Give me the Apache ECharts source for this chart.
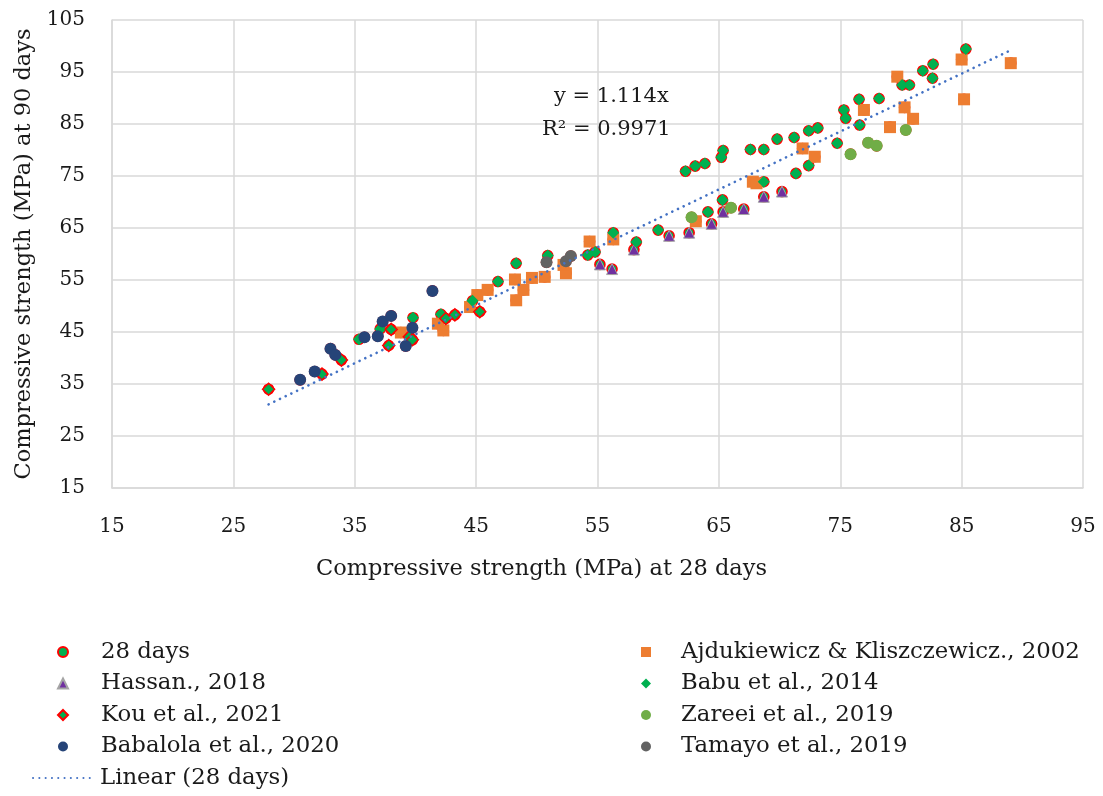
<!DOCTYPE html>
<html>
<head>
<meta charset="utf-8">
<script src="https://cdn.jsdelivr.net/npm/echarts@6/dist/echarts.min.js"></script>
<style>
  html, body { margin: 0; padding: 0; background: #ffffff; }
  #chart { width: 1103px; height: 796px; }
</style>
</head>
<body>
<div id="chart"></div>
<script>
// Compressive strength pairs [28 days, 90 days] in MPa, per source
const hassan2018 = [
  [55.2, 58.0], [56.2, 57.1], [58.0, 60.85], [60.9, 63.5], [62.55, 64.1],
  [64.4, 65.8], [65.35, 68.1], [67.05, 68.65], [68.7, 71.0], [70.2, 72.0]
];
const kou2021 = [
  [27.9, 34.0], [32.3, 36.9], [33.9, 39.6], [37.8, 42.4], [38.0, 45.5],
  [39.5, 44.1], [39.75, 43.5], [42.5, 47.6], [43.25, 48.3], [45.3, 48.9]
];
const babalola2020 = [
  [30.5, 35.8], [31.7, 37.4], [33.0, 41.8], [33.4, 40.6], [35.8, 44.0],
  [36.9, 44.2], [37.3, 47.0], [38.0, 48.1], [39.2, 42.3], [39.75, 45.8],
  [41.4, 52.9]
];
const ajdukiewicz2002 = [
  [38.8, 44.9], [41.85, 46.6], [42.3, 45.3], [44.5, 49.8], [45.1, 52.1],
  [45.95, 53.1], [48.2, 55.1], [48.3, 51.1], [48.9, 53.1], [49.6, 55.4],
  [50.65, 55.6], [52.4, 56.3], [52.2, 57.9], [54.35, 62.4], [56.3, 62.8],
  [63.1, 66.3], [67.8, 73.9], [68.1, 73.6], [71.9, 80.3], [72.9, 78.7],
  [76.95, 87.7], [79.1, 84.4], [79.7, 94.1], [80.3, 88.2], [81.0, 86.0],
  [85.0, 97.4], [85.2, 89.75], [89.05, 96.7]
];
const babu2014 = [
  [35.35, 43.6], [37.1, 45.6], [39.8, 47.75], [42.1, 48.4], [44.7, 51.0],
  [46.8, 54.7], [48.3, 58.2], [50.9, 59.7], [54.2, 59.8], [54.8, 60.4],
  [56.3, 64.1], [58.2, 62.3], [60.0, 64.6], [62.25, 75.9], [63.05, 76.9],
  [63.85, 77.4], [64.1, 68.1], [65.2, 78.6], [65.35, 79.9], [65.3, 70.4],
  [67.6, 80.1], [68.7, 80.1], [68.7, 73.9], [69.8, 82.1], [71.2, 82.4],
  [71.35, 75.5], [72.4, 77.0], [72.4, 83.7], [73.15, 84.25], [74.75, 81.3],
  [75.3, 87.7], [75.45, 86.1], [76.55, 89.75], [76.6, 84.8], [78.2, 89.9],
  [80.1, 92.5], [80.7, 92.5], [81.8, 95.25], [82.6, 93.8], [82.65, 96.5],
  [85.35, 99.4]
];
const zareei2019 = [
  [62.75, 67.05], [66.0, 68.9], [75.85, 79.2], [77.3, 81.4], [78.0, 80.8],
  [80.4, 83.85]
];
const tamayo2019 = [
  [50.8, 58.4], [52.4, 58.6], [52.8, 59.6]
];

// Pooled 28-day dataset and its regression through the origin
const allDays28 = [].concat(hassan2018, kou2021, babalola2020, ajdukiewicz2002,
  babu2014, zareei2019, tamayo2019);
const TREND_SLOPE = 1.114;
const TREND_R2 = '0.9971';

const xTicks = { min: 15, max: 95, step: 10 };
const yTicks = { min: 15, max: 105, step: 10 };

const xs = allDays28.map(p => p[0]);
const xLo = Math.min.apply(null, xs);
const xHi = Math.max.apply(null, xs);
const trendData = [[xLo, TREND_SLOPE * xLo], [xHi, TREND_SLOPE * xHi]];

const FONT = 'DejaVu Serif';
const TEXT = '#1a1a1a';
const GRID = '#d9d9d9';
const TREND_COLOR = '#4472c4';

const chart = echarts.init(document.getElementById('chart'), null, { renderer: 'canvas' });

function scatter(name, data, symbol, size, itemStyle, z) {
  return { name, type: 'scatter', data, symbol, symbolSize: size, itemStyle, z, emphasis: { disabled: true } };
}

const legendText = { fontFamily: FONT, fontSize: 22.8, color: TEXT, lineHeight: 24 };
const legendBase = {
  orient: 'vertical', padding: 0, itemGap: 7.5, selectedMode: false
};

const option = {
  animation: false,
  backgroundColor: '#ffffff',
  textStyle: { fontFamily: FONT },
  grid: { left: 112, right: 20, top: 20, bottom: 308 },
  xAxis: {
    type: 'value', min: xTicks.min, max: xTicks.max, interval: xTicks.step,
    name: 'Compressive strength (MPa) at 28 days',
    nameLocation: 'middle', nameGap: 70,
    nameTextStyle: { fontFamily: FONT, fontSize: 22.5, color: TEXT, padding: [0, 112, 0, 0] },
    axisLine: { show: true, lineStyle: { color: GRID, width: 1.5 } },
    axisTick: { show: false },
    axisLabel: { fontFamily: FONT, fontSize: 20, color: TEXT, margin: 29 },
    splitLine: { show: true, lineStyle: { color: GRID, width: 1.5 } }
  },
  yAxis: {
    type: 'value', min: yTicks.min, max: yTicks.max, interval: yTicks.step,
    name: 'Compressive strength (MPa) at 90 days',
    nameLocation: 'middle', nameGap: 65, nameRotate: 90,
    nameTextStyle: { fontFamily: FONT, fontSize: 22.5, color: TEXT },
    axisLine: { show: true, lineStyle: { color: GRID, width: 1.5 } },
    axisTick: { show: false },
    axisLabel: { fontFamily: FONT, fontSize: 20, color: TEXT, margin: 27 },
    splitLine: { show: true, lineStyle: { color: GRID, width: 1.5 } }
  },
  legend: [
    Object.assign({}, legendBase, {
      left: 57, top: 640, itemWidth: 10, itemHeight: 10,
      textStyle: Object.assign({ padding: [0, 0, 0, 28] }, legendText),
      data: ['28 days', 'Hassan., 2018', 'Kou et al., 2021', 'Babalola et al., 2020']
    }),
    Object.assign({}, legendBase, {
      left: 32, top: 766, itemWidth: 62, itemHeight: 10,
      textStyle: Object.assign({}, legendText),
      data: [{ name: 'Linear (28 days)', itemStyle: { opacity: 0 } }]
    }),
    Object.assign({}, legendBase, {
      left: 641, top: 640, itemWidth: 10, itemHeight: 10,
      textStyle: Object.assign({ padding: [0, 0, 0, 25] }, legendText),
      data: ['Ajdukiewicz & Kliszczewicz., 2002', 'Babu et al., 2014', 'Zareei et al., 2019', 'Tamayo et al., 2019']
    })
  ],
  graphic: [
    { type: 'text', left: 554, top: 86, z: 100,
      style: { text: 'y = ' + TREND_SLOPE + 'x', font: '21px "DejaVu Serif"', fill: TEXT } },
    { type: 'text', left: 542, top: 119, z: 100,
      style: { text: 'R\u00b2 = ' + TREND_R2, font: '21px "DejaVu Serif"', fill: TEXT } }
  ],
  series: [
    scatter('28 days', allDays28, 'circle', 10,
      { color: '#00b050', borderColor: '#ff0000', borderWidth: 1.6, opacity: 1 }, 2),
    scatter('Ajdukiewicz & Kliszczewicz., 2002', ajdukiewicz2002, 'rect', 12,
      { color: '#ed7d31', opacity: 1 }, 3),
    scatter('Hassan., 2018', hassan2018, 'triangle', 11,
      { color: '#7030a0', borderColor: '#a5a5a5', borderWidth: 1, opacity: 1 }, 3),
    scatter('Babu et al., 2014', babu2014, 'diamond', 12,
      { color: '#00b050', opacity: 1 }, 3),
    scatter('Kou et al., 2021', kou2021, 'diamond', 12,
      { color: '#00b050', borderColor: '#ff0000', borderWidth: 1.5, opacity: 1 }, 3),
    scatter('Zareei et al., 2019', zareei2019, 'circle', 12,
      { color: '#70ad47', opacity: 1 }, 3),
    scatter('Babalola et al., 2020', babalola2020, 'circle', 12,
      { color: '#264478', opacity: 1 }, 3),
    scatter('Tamayo et al., 2019', tamayo2019, 'circle', 12,
      { color: '#636363', opacity: 1 }, 3),
    {
      name: 'Linear (28 days)', type: 'line', data: trendData, symbol: 'none', z: 4,
      lineStyle: { color: TREND_COLOR, width: 2.6, type: [0.1, 6.2], cap: 'round' },
      itemStyle: { color: TREND_COLOR },
      emphasis: { disabled: true }
    }
  ]
};

chart.setOption(option);
</script>
</body>
</html>
